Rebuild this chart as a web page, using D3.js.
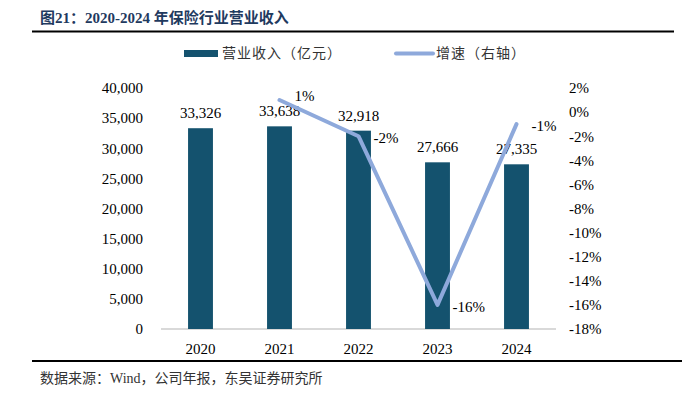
<!DOCTYPE html>
<html lang="zh">

<head>
	<meta charset="utf-8">
	<title>2020-2024 年保险行业营业收入</title>
	<script type="text/javascript" src="https://cdn.jsdelivr.net/npm/d3@7"></script>
	<style type="text/css">
		body {
			margin: 0;
			background: #fff;
		}

		text {
			font-family: "Liberation Serif", "Noto Sans CJK SC", serif;
		}

		.axis text {
			font-size: 15px;
			fill: #000;
		}
	</style>
</head>

<body>
	<script type="text/javascript">
		//Width and height
		var w = 682;
		var h = 394;

		// data
		var years = ["2020", "2021", "2022", "2023", "2024"];
		var revenue = [33326, 33638, 32918, 27666, 27335];
		var growth = [null, 1, -2, -16, -1];
		var leftTicks = [0, 5000, 10000, 15000, 20000, 25000, 30000, 35000, 40000];
		var rightTicks = [2, 0, -2, -4, -6, -8, -10, -12, -14, -16, -18];

		var barColor = "#14526E";
		var lineColor = "#8EA9DB";

		// plot area
		var plotLeft = 161;
		var plotRight = 556;
		var plotTop = 88;
		var plotBottom = 329;

		//Create scale functions
		var xScale = d3.scaleBand()
			.domain(years)
			.range([plotLeft, plotRight])
			.paddingInner(0.685)
			.paddingOuter(0.3425);

		var yScale = d3.scaleLinear()
			.domain([0, 40000])
			.range([plotBottom, plotTop]);

		var y2Scale = d3.scaleLinear()
			.domain([-18, 2])
			.range([plotBottom, plotTop]);

		//Create SVG element
		var svg = d3.select("body")
			.append("svg")
			.attr("width", w)
			.attr("height", h);

		// title
		svg.append("text")
			.attr("x", 40)
			.attr("y", 23)
			.attr("font-size", "15px")
			.attr("font-weight", "bold")
			.attr("fill", "#1F3A5F")
			.text("图21：2020-2024 年保险行业营业收入");

		svg.append("line")
			.attr("x1", 32)
			.attr("x2", 674)
			.attr("y1", 31.5)
			.attr("y2", 31.5)
			.attr("stroke", "#000")
			.attr("stroke-width", 2);

		// legend
		svg.append("rect")
			.attr("x", 184)
			.attr("y", 50)
			.attr("width", 34)
			.attr("height", 7)
			.attr("fill", barColor);

		svg.append("text")
			.attr("x", 222)
			.attr("y", 58)
			.attr("font-size", "14px")
			.attr("fill", "#333")
			.attr("letter-spacing", "1px")
			.text("营业收入（亿元）");

		svg.append("line")
			.attr("x1", 396)
			.attr("x2", 433)
			.attr("y1", 53.5)
			.attr("y2", 53.5)
			.attr("stroke", lineColor)
			.attr("stroke-width", 4)
			.attr("stroke-linecap", "round");

		svg.append("text")
			.attr("x", 436)
			.attr("y", 58)
			.attr("font-size", "14px")
			.attr("fill", "#333")
			.attr("letter-spacing", "1px")
			.text("增速（右轴）");

		// x axis line
		svg.append("line")
			.attr("x1", plotLeft)
			.attr("x2", plotRight)
			.attr("y1", plotBottom)
			.attr("y2", plotBottom)
			.attr("stroke", "#D9D9D9")
			.attr("stroke-width", 2);

		// bars
		svg.selectAll("rect.bar")
			.data(revenue)
			.enter()
			.append("rect")
			.attr("class", "bar")
			.attr("x", function (d, i) {
				return xScale(years[i]);
			})
			.attr("y", function (d) {
				return yScale(d);
			})
			.attr("width", xScale.bandwidth())
			.attr("height", function (d) {
				return plotBottom - yScale(d);
			})
			.attr("fill", barColor);

		// bar labels
		var formatNum = d3.format(",");
		svg.selectAll("text.barlabel")
			.data(revenue)
			.enter()
			.append("text")
			.attr("class", "barlabel")
			.attr("x", function (d, i) {
				return xScale(years[i]) + xScale.bandwidth() / 2;
			})
			.attr("y", function (d) {
				return yScale(d) - 10;
			})
			.attr("text-anchor", "middle")
			.attr("font-size", "15px")
			.attr("fill", "#000")
			.text(function (d) {
				return formatNum(d);
			});

		// growth line
		var points = [];
		for (var i = 0; i < years.length; i++) {
			if (growth[i] !== null) {
				points.push({ year: years[i], value: growth[i] });
			}
		}

		var line = d3.line()
			.x(function (d) {
				return xScale(d.year) + xScale.bandwidth() / 2;
			})
			.y(function (d) {
				return y2Scale(d.value);
			});

		svg.append("path")
			.datum(points)
			.attr("d", line)
			.attr("fill", "none")
			.attr("stroke", lineColor)
			.attr("stroke-width", 4)
			.attr("stroke-linejoin", "round")
			.attr("stroke-linecap", "round");

		// labels to the right of each point (positive one sits a bit higher)
		svg.selectAll("text.linelabel")
			.data(points)
			.enter()
			.append("text")
			.attr("class", "linelabel")
			.attr("x", function (d) {
				return xScale(d.year) + xScale.bandwidth() / 2 + 15;
			})
			.attr("y", function (d) {
				return y2Scale(d.value) + (d.value > 0 ? 1 : 7);
			})
			.attr("font-size", "15px")
			.attr("fill", "#000")
			.text(function (d) {
				return d.value + "%";
			});

		// left axis
		var yAxis = d3.axisLeft()
			.scale(yScale)
			.tickValues(leftTicks)
			.tickSize(0)
			.tickPadding(7)
			.tickFormat(formatNum);

		var gy = svg.append("g")
			.attr("class", "axis")
			.attr("transform", "translate(150,0)")
			.call(yAxis);
		gy.select(".domain").remove();

		// right axis
		var y2Axis = d3.axisRight()
			.scale(y2Scale)
			.tickValues(rightTicks)
			.tickSize(0)
			.tickPadding(7)
			.tickFormat(function (d) {
				return d + "%";
			});

		var gy2 = svg.append("g")
			.attr("class", "axis")
			.attr("transform", "translate(562,0)")
			.call(y2Axis);
		gy2.select(".domain").remove();

		// x axis labels
		var xAxis = d3.axisBottom()
			.scale(xScale)
			.tickSize(0)
			.tickPadding(14);

		var gx = svg.append("g")
			.attr("class", "axis")
			.attr("transform", "translate(0," + plotBottom + ")")
			.call(xAxis);
		gx.select(".domain").remove();

		// footer
		svg.append("line")
			.attr("x1", 32)
			.attr("x2", 682)
			.attr("y1", 361)
			.attr("y2", 361)
			.attr("stroke", "#000")
			.attr("stroke-width", 2);

		svg.append("text")
			.attr("x", 40)
			.attr("y", 383)
			.attr("font-size", "14px")
			.attr("fill", "#333")
			.text("数据来源：Wind，公司年报，东吴证券研究所");

	</script>
</body>

</html>
